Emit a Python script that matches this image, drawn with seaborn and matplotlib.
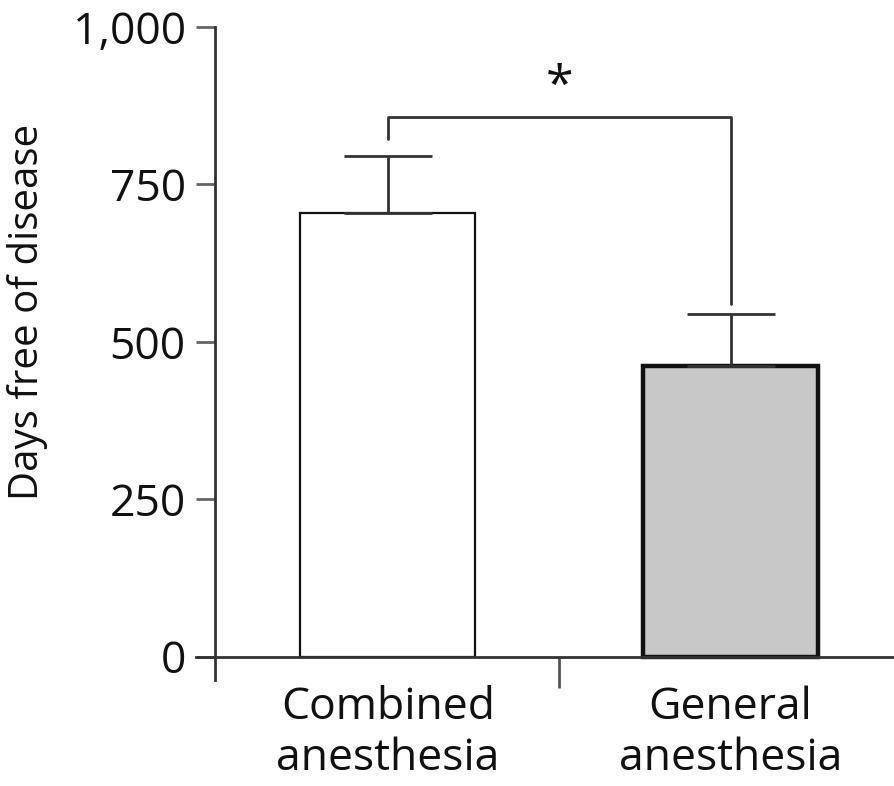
import matplotlib
matplotlib.use('Agg')
import matplotlib.pyplot as plt
import seaborn as sns
import pandas as pd

# Values
groups = ['Combined\nanesthesia', 'General\nanesthesia']
days_mean = [705, 461]
days_err = [90, 83]
bar_colors = ['#ffffff', '#c8c8c8']
yticks = [0, 250, 500, 750, 1000]
ytick_labels = ['0', '250', '500', '750', '1,000']
bracket_y = 857

sns.set_theme(style='white')
plt.rcParams['font.family'] = ['Open Sans', 'DejaVu Sans']

df = pd.DataFrame({'group': groups, 'days': days_mean})

fig = plt.figure(figsize=(8.95, 7.86), dpi=100)
ax = fig.add_axes([0.240, 0.135, 0.760, 0.8305])

sns.barplot(data=df, x='group', y='days', hue='group', palette=bar_colors,
            width=0.51, legend=False, ax=ax, zorder=2)
for patch, lw in zip(ax.patches, [1.6, 3.2]):
    patch.set_edgecolor('#111111')
    patch.set_linewidth(lw)

# upward error bars only
ax.errorbar([0, 1], days_mean, yerr=[[0, 0], days_err], fmt='none',
            ecolor='#333333', elinewidth=2, capsize=32, capthick=2, zorder=3)

# significance bracket
ax.plot([0, 0, 1, 1], [822, bracket_y, bracket_y, 560], color='#333333',
        lw=2, clip_on=False, zorder=3)
ax.text(0.5, bracket_y + 6, '*', ha='center', va='bottom', fontsize=36,
        color='#111111')

ax.set_xlim(-0.505, 1.48)
ax.set_ylim(-37, 1000)
ax.set_yticks(yticks)
ax.set_yticklabels(ytick_labels)
ax.set_xticks([0, 1])
ax.set_xticklabels(groups, linespacing=1.0)
ax.set_xticks([0.5], minor=True)

ax.spines['top'].set_visible(False)
ax.spines['right'].set_visible(False)
ax.spines['bottom'].set_position(('data', 0))
ax.spines['bottom'].set_bounds(-0.56, 1.48)
for s in ['left', 'bottom']:
    ax.spines[s].set_color('#333333')
    ax.spines[s].set_linewidth(2)

ax.tick_params(axis='y', which='major', direction='out', length=14, width=2,
               color='#666666', labelsize=32, pad=7, labelcolor='#111111',
               left=True)
ax.tick_params(axis='x', which='major', length=0, labelsize=32, pad=21,
               labelcolor='#111111')
ax.tick_params(axis='x', which='minor', direction='out', length=22,
               width=2, color='#555555', bottom=True)

ax.set_xlabel('')
ax.set_ylabel('Days free of disease', fontsize=29, color='#111111')
ax.yaxis.set_label_coords(-0.245, 0.5636)

fig.savefig('out.png', dpi=100, facecolor='white')
